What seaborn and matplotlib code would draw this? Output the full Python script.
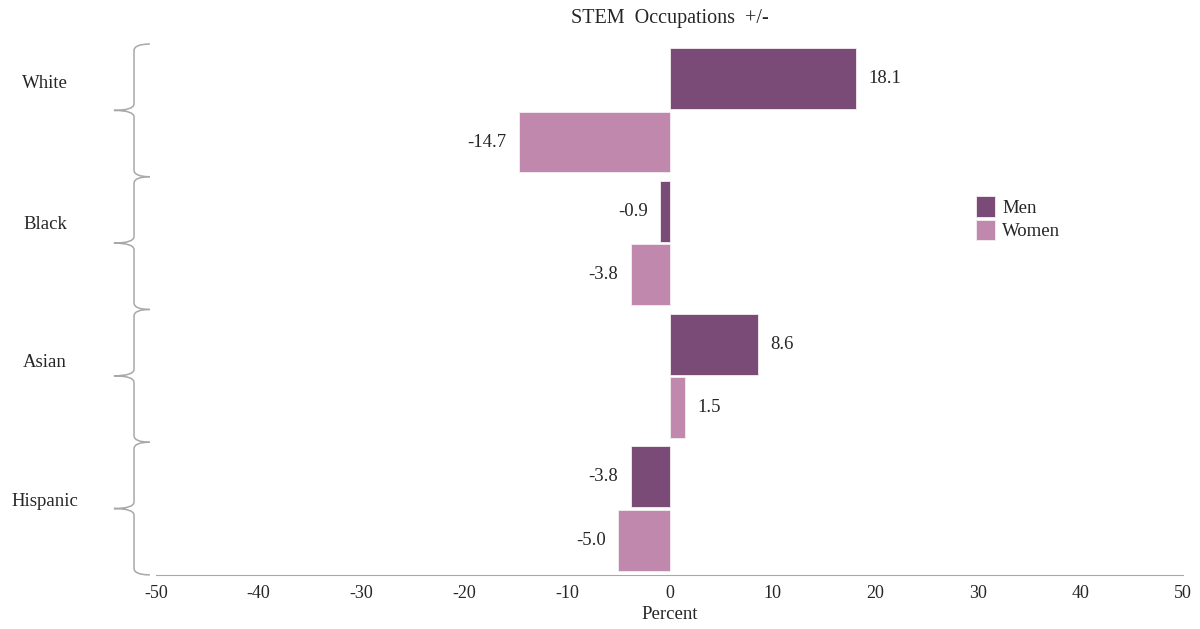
import pandas as pd
import matplotlib.pyplot as plt
import seaborn as sns
import numpy as np
from matplotlib.path import Path
from matplotlib.patches import PathPatch
import matplotlib.transforms as mtransforms


groups = ['White', 'Black', 'Asian', 'Hispanic']
men = [18.1, -0.9, 8.6, -3.8]
women = [-14.7, -3.8, 1.5, -5.0]
genders = ['Men', 'Women']
colors = ['#7b4b78', '#c088ad']
xticks = [-50, -40, -30, -20, -10, 0, 10, 20, 30, 40, 50]

df = pd.DataFrame({
    'group': groups * 2,
    'gender': ['Men'] * len(groups) + ['Women'] * len(groups),
    'value': men + women,
})

sns.set_style('white')
plt.rcParams['font.family'] = ['Liberation Serif', 'DejaVu Serif']

fig = plt.figure(figsize=(12, 6.29), dpi=100)
ax = fig.add_axes([0.13, 0.086, 0.856, 0.844])

sns.barplot(data=df, x='value', y='group', hue='gender', order=groups,
            hue_order=genders, palette=colors, saturation=1, orient='y',
            width=0.955, gap=0.04, edgecolor='#f4eef3', linewidth=0.6,
            ax=ax, errorbar=None)

for cont in ax.containers:
    ax.bar_label(cont, fmt='%.1f', padding=9, fontsize=13.5)

ax.set_xlim(-50, 50)
ax.set_ylim(3.5, -0.5)
ax.set_xticks(xticks)
ax.set_xticklabels([str(t) for t in xticks], fontsize=13)
ax.set_yticks([])
ax.set_ylabel('')
ax.set_xlabel('Percent', fontsize=13.5, labelpad=3)
ax.set_title('STEM  Occupations  +/-', fontsize=14.5, pad=15)

for s in ['top', 'right', 'left']:
    ax.spines[s].set_visible(False)
ax.spines['bottom'].set_color('#a8a8a8')
ax.tick_params(axis='x', direction='out', length=4, color='#a8a8a8', pad=3)

# curly braces on the left
trans = mtransforms.blended_transform_factory(ax.transAxes, ax.transData)
xl, xh, xt = -0.0214, -0.006, -0.041
c = 0.05
label_off = [0.2, 0.14, 0.1, 0.05]
for i, g in enumerate(groups):
    top, bot = i - 0.5, i + 0.5
    verts = [(xh, top), (xl, top), (xl, top + c),
             (xl, i - c),
             (xl, i), (xt, i),
             (xl, i), (xl, i + c),
             (xl, bot - c),
             (xl, bot), (xh, bot)]
    codes = [Path.MOVETO, Path.CURVE3, Path.CURVE3,
             Path.LINETO,
             Path.CURVE3, Path.CURVE3,
             Path.CURVE3, Path.CURVE3,
             Path.LINETO,
             Path.CURVE3, Path.CURVE3]
    patch = PathPatch(Path(verts, codes), transform=trans, fill=False,
                      edgecolor='#a8a8a8', lw=1.1, clip_on=False)
    ax.add_patch(patch)
    ax.text(-0.108, i - label_off[i], g, transform=trans, ha='center',
            va='center', fontsize=13.5)

handles, labels = ax.get_legend_handles_labels()
ax.legend(handles, labels, loc='upper left', bbox_to_anchor=(0.807, 0.7),
          bbox_transform=fig.transFigure, frameon=False, fontsize=13.5,
          handlelength=1.0, handleheight=1.3, handletextpad=0.4,
          labelspacing=0.15, borderaxespad=0)

plt.savefig('out.png', dpi=100)
